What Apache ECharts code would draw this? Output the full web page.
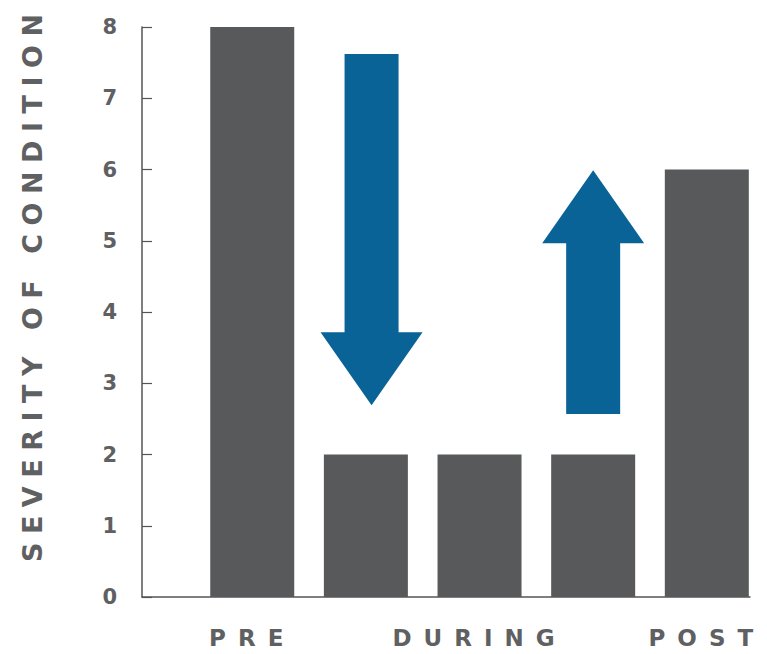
<!DOCTYPE html>
<html>
<head>
<meta charset="utf-8">
<script src="https://cdn.jsdelivr.net/npm/echarts@6/dist/echarts.min.js"></script>
<style>
html,body{margin:0;padding:0;background:#fff;}
#chart{width:767px;height:654px;}
</style>
</head>
<body>
<div id="chart"></div>
<script>
// ---- data ----
const barPositions = [1, 2, 3, 4, 5];
const severity = [8, 2, 2, 2, 6];
const stageTickValues = [1, 3, 5];
const stageLabels = ['PRE', 'DURING', 'POST'];
const yTickValues = [0, 1, 2, 3, 4, 5, 6, 7, 8];
const yAxisTitle = 'SEVERITY OF CONDITION';
// arrows: x position, start value, end value (tip)
const arrowX = [2.05, 4.0];
const arrowFrom = [7.62, 2.57];
const arrowTo = [2.69, 5.99];

const GRAY = '#58595b';
const TEXT = '#5f6062';
const BLUE = '#0a6396';
const STAGE_SPACING = 12;
const TITLE_SPACING = 8.5;

const chart = echarts.init(document.getElementById('chart'), null, {renderer: 'svg'});

const option = {
  backgroundColor: '#ffffff',
  animation: false,
  grid: {left: 142, right: 17, top: 27, bottom: 57, containLabel: false},
  xAxis: {
    type: 'value',
    min: 0.03,
    max: 5.38,
    splitLine: {show: false},
    axisTick: {show: false},
    axisLine: {show: true, lineStyle: {color: '#555', width: 1.5}},
    axisLabel: {
      customValues: stageTickValues,
      formatter: function (v) {
        const i = stageTickValues.indexOf(Math.round(v));
        return i >= 0 ? stageLabels[i] : '';
      },
      color: TEXT,
      fontFamily: 'DejaVu Sans',
      fontWeight: 'bold',
      fontSize: 23,
      margin: 29
    }
  },
  yAxis: {
    type: 'value',
    min: 0,
    max: 8,
    interval: 1,
    splitLine: {show: false},
    axisLine: {show: true, lineStyle: {color: '#555', width: 1.5}},
    axisTick: {show: true, inside: true, length: 10, lineStyle: {color: '#555', width: 1.2}},
    axisLabel: {
      color: TEXT,
      fontFamily: 'DejaVu Sans',
      fontWeight: 'bold',
      fontSize: 21,
      margin: 25,
      formatter: function (v) { return yTickValues.indexOf(v) >= 0 ? String(v) : ''; }
    },
    name: yAxisTitle,
    nameLocation: 'middle',
    nameRotate: 90,
    nameGap: 96,
    nameTextStyle: {
      color: TEXT,
      fontFamily: 'DejaVu Sans',
      fontWeight: 'bold',
      fontSize: 27,
      padding: [0, 0, 0, 48 + TITLE_SPACING]
    }
  },
  series: [
    {
      type: 'bar',
      barWidth: 84,
      itemStyle: {color: GRAY},
      data: barPositions.map((x, i) => [x, severity[i]])
    },
    {
      type: 'custom',
      renderItem: function (params, api) {
        const x = api.value(0);
        const from = api.coord([x, api.value(1)]);
        const tip = api.coord([x, api.value(2)]);
        const dir = tip[1] > from[1] ? 1 : -1;
        const shaftHalf = 27, headHalf = 51, headLen = 73;
        const cx = tip[0];
        const baseY = tip[1] - dir * headLen;
        return {
          type: 'polygon',
          shape: {points: [
            [cx - shaftHalf, from[1]],
            [cx + shaftHalf, from[1]],
            [cx + shaftHalf, baseY],
            [cx + headHalf, baseY],
            [cx, tip[1]],
            [cx - headHalf, baseY],
            [cx - shaftHalf, baseY]
          ]},
          style: {fill: BLUE}
        };
      },
      data: arrowX.map((x, i) => [x, arrowFrom[i], arrowTo[i]]),
      z: 5
    }
  ]
};
chart.setOption(option);

// widen the letter spacing of the tracked-out labels, as in the reference
function applySpacing() {
  document.querySelectorAll('#chart svg text').forEach(function (t) {
    const s = (t.textContent || '').trim();
    if (stageLabels.indexOf(s) >= 0) {
      t.setAttribute('letter-spacing', STAGE_SPACING + 'px');
    } else if (s === yAxisTitle) {
      t.setAttribute('letter-spacing', TITLE_SPACING + 'px');
    }
  });
}
applySpacing();
chart.on('finished', applySpacing);
</script>
</body>
</html>
